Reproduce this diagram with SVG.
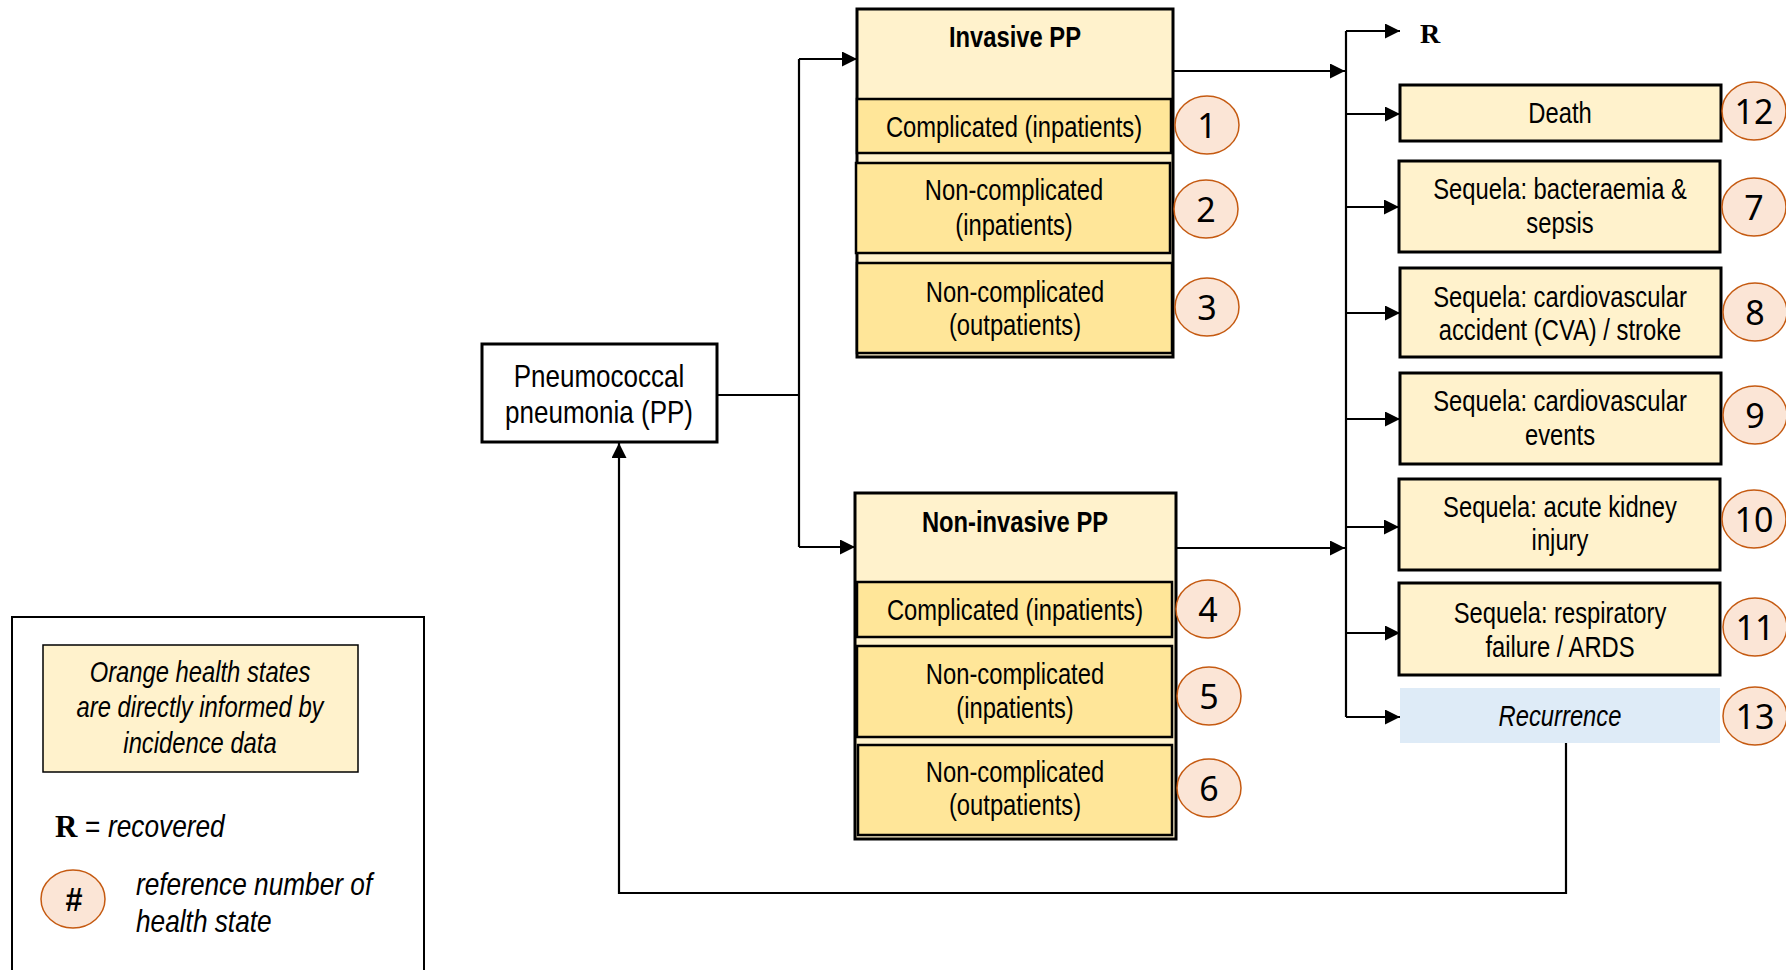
<svg xmlns="http://www.w3.org/2000/svg" width="1786" height="970" viewBox="0 0 1786 970">
  <style>
    .t { font-family: "Liberation Sans", Arial, sans-serif; font-size: 29px; fill: #000; text-anchor: middle; }
    .b { font-weight: bold; }
    .i { font-style: italic; }
    .lg { font-size: 32px; text-anchor: start; }
    .num { font-family: "Noto Sans", "Open Sans", sans-serif; font-size: 34px; fill: #000; text-anchor: middle; }
    .hdr { fill: #fff2cc; stroke: #000; stroke-width: 3; }
    .row { fill: #ffe699; stroke: #000; stroke-width: 2.5; }
    .seq { fill: #fff2cc; stroke: #000; stroke-width: 3; }
    .ref { fill: #fbe5d6; stroke: #c55a11; stroke-width: 1.5; }
    .wire { fill: none; stroke: #000; stroke-width: 2.2; }
    .serif { font-family: "Liberation Serif", "Times New Roman", serif; font-weight: bold; fill: #000; }
  </style>
  <defs>
    <marker id="arr" markerUnits="userSpaceOnUse" markerWidth="16" markerHeight="16" refX="15" refY="7.5" orient="auto">
      <path d="M0,0 L15,7.5 L0,15 z" fill="#000"/>
    </marker>
  </defs>

  <rect width="1786" height="970" fill="#fff"/>

  <!-- connectors -->
  <g id="connectors" class="wire">
    <polyline points="717,395 799,395"/>
    <polyline points="799,59 799,547"/>
    <polyline points="799,59 857,59" marker-end="url(#arr)"/>
    <polyline points="799,547 855,547" marker-end="url(#arr)"/>
    <polyline points="1173,71 1345,71" marker-end="url(#arr)"/>
    <polyline points="1176,548 1345,548" marker-end="url(#arr)"/>
    <polyline points="1346,31 1346,717"/>
    <polyline points="1346,31 1400,31" marker-end="url(#arr)"/>
    <polyline points="1346,114 1400,114" marker-end="url(#arr)"/>
    <polyline points="1346,207 1399,207" marker-end="url(#arr)"/>
    <polyline points="1346,313 1400,313" marker-end="url(#arr)"/>
    <polyline points="1346,419 1400,419" marker-end="url(#arr)"/>
    <polyline points="1346,527 1399,527" marker-end="url(#arr)"/>
    <polyline points="1346,633 1400,633" marker-end="url(#arr)"/>
    <polyline points="1346,717 1400,717" marker-end="url(#arr)"/>
    <polyline points="1566,743 1566,893 619,893 619,443" marker-end="url(#arr)"/>
  </g>

  <!-- starting state -->
  <g id="pp">
    <rect x="482" y="344" width="235" height="98" fill="#fff" stroke="#000" stroke-width="3"/>
    <text class="t" style="font-size:31px" transform="translate(599,387) scale(0.84,1)">Pneumococcal</text>
    <text class="t" style="font-size:31px" transform="translate(599,423) scale(0.84,1)">pneumonia (PP)</text>
  </g>

  <!-- invasive branch -->
  <g id="invasive">
    <rect class="hdr" x="857" y="9" width="316" height="348"/>
    <text class="t b" transform="translate(1015,47) scale(0.82,1)">Invasive PP</text>
  </g>
  <g id="state-1">
    <rect class="row" x="857" y="99" width="314" height="54"/>
    <text class="t" transform="translate(1014,137) scale(0.82,1)">Complicated (inpatients)</text>
    <ellipse class="ref" cx="1207" cy="125" rx="32" ry="29"/>
    <text class="num" x="1207" y="137.5">1</text>
  </g>
  <g id="state-2">
    <rect class="row" x="856" y="163" width="314" height="90"/>
    <text class="t" transform="translate(1014,200) scale(0.82,1)">Non-complicated</text>
    <text class="t" transform="translate(1014,235) scale(0.82,1)">(inpatients)</text>
    <ellipse class="ref" cx="1206" cy="209" rx="32" ry="29"/>
    <text class="num" x="1206" y="221.5">2</text>
  </g>
  <g id="state-3">
    <rect class="row" x="857" y="263" width="315" height="90"/>
    <text class="t" transform="translate(1015,302) scale(0.82,1)">Non-complicated</text>
    <text class="t" transform="translate(1015,335) scale(0.82,1)">(outpatients)</text>
    <ellipse class="ref" cx="1207" cy="307" rx="32" ry="29"/>
    <text class="num" x="1207" y="319.5">3</text>
  </g>

  <!-- non-invasive branch -->
  <g id="non-invasive">
    <rect class="hdr" x="855" y="493" width="321" height="346"/>
    <text class="t b" transform="translate(1015,532) scale(0.82,1)">Non-invasive PP</text>
  </g>
  <g id="state-4">
    <rect class="row" x="857" y="582" width="315" height="55"/>
    <text class="t" transform="translate(1015,620) scale(0.82,1)">Complicated (inpatients)</text>
    <ellipse class="ref" cx="1208" cy="609" rx="32" ry="29"/>
    <text class="num" x="1208" y="621.5">4</text>
  </g>
  <g id="state-5">
    <rect class="row" x="857" y="646" width="315" height="91"/>
    <text class="t" transform="translate(1015,684) scale(0.82,1)">Non-complicated</text>
    <text class="t" transform="translate(1015,718) scale(0.82,1)">(inpatients)</text>
    <ellipse class="ref" cx="1209" cy="696" rx="32" ry="29"/>
    <text class="num" x="1209" y="708.5">5</text>
  </g>
  <g id="state-6">
    <rect class="row" x="858" y="745" width="314" height="90"/>
    <text class="t" transform="translate(1015,782) scale(0.82,1)">Non-complicated</text>
    <text class="t" transform="translate(1015,815) scale(0.82,1)">(outpatients)</text>
    <ellipse class="ref" cx="1209" cy="788" rx="32" ry="29"/>
    <text class="num" x="1209" y="800.5">6</text>
  </g>

  <!-- outcomes -->
  <g id="recovered">
    <text class="serif" x="1420" y="43" font-size="28">R</text>
  </g>
  <g id="state-12">
    <rect class="seq" x="1400" y="85" width="321" height="56"/>
    <text class="t" transform="translate(1560,123) scale(0.82,1)">Death</text>
    <ellipse class="ref" cx="1754" cy="111" rx="32" ry="29"/>
    <text class="num" x="1754" y="123.5">12</text>
  </g>
  <g id="state-7">
    <rect class="seq" x="1399" y="161" width="321" height="91"/>
    <text class="t" transform="translate(1560,199) scale(0.82,1)">Sequela: bacteraemia &amp;</text>
    <text class="t" transform="translate(1560,233) scale(0.82,1)">sepsis</text>
    <ellipse class="ref" cx="1754" cy="207" rx="32" ry="29"/>
    <text class="num" x="1754" y="219.5">7</text>
  </g>
  <g id="state-8">
    <rect class="seq" x="1400" y="268" width="321" height="89"/>
    <text class="t" transform="translate(1560,307) scale(0.82,1)">Sequela: cardiovascular</text>
    <text class="t" transform="translate(1560,340) scale(0.82,1)">accident (CVA) / stroke</text>
    <ellipse class="ref" cx="1755" cy="312" rx="32" ry="29"/>
    <text class="num" x="1755" y="324.5">8</text>
  </g>
  <g id="state-9">
    <rect class="seq" x="1400" y="373" width="321" height="91"/>
    <text class="t" transform="translate(1560,411) scale(0.82,1)">Sequela: cardiovascular</text>
    <text class="t" transform="translate(1560,445) scale(0.82,1)">events</text>
    <ellipse class="ref" cx="1755" cy="415" rx="32" ry="29"/>
    <text class="num" x="1755" y="427.5">9</text>
  </g>
  <g id="state-10">
    <rect class="seq" x="1399" y="479" width="321" height="91"/>
    <text class="t" transform="translate(1560,517) scale(0.82,1)">Sequela: acute kidney</text>
    <text class="t" transform="translate(1560,550) scale(0.82,1)">injury</text>
    <ellipse class="ref" cx="1754" cy="519" rx="32" ry="29"/>
    <text class="num" x="1754" y="531.5">10</text>
  </g>
  <g id="state-11">
    <rect class="seq" x="1399" y="583" width="321" height="92"/>
    <text class="t" transform="translate(1560,623) scale(0.82,1)">Sequela: respiratory</text>
    <text class="t" transform="translate(1560,657) scale(0.82,1)">failure / ARDS</text>
    <ellipse class="ref" cx="1755" cy="627" rx="32" ry="29"/>
    <text class="num" x="1755" y="639.5">11</text>
  </g>
  <g id="state-13">
    <rect x="1400" y="688" width="320" height="55" fill="#deebf7"/>
    <text class="t i" transform="translate(1560,726) scale(0.82,1)">Recurrence</text>
    <ellipse class="ref" cx="1755" cy="716" rx="32" ry="29"/>
    <text class="num" x="1755" y="728.5">13</text>
  </g>

  <!-- legend -->
  <g id="legend">
    <rect x="12" y="617" width="412" height="400" fill="#fff" stroke="#000" stroke-width="2"/>
    <rect x="43" y="645" width="315" height="127" fill="#fff2cc" stroke="#000" stroke-width="1.5"/>
    <text class="t i" transform="translate(200,682) scale(0.82,1)">Orange health states</text>
    <text class="t i" transform="translate(200,717) scale(0.82,1)">are directly informed by</text>
    <text class="t i" transform="translate(200,753) scale(0.82,1)">incidence data</text>
    <text class="serif" x="55" y="837" font-size="31">R</text>
    <text class="t lg" transform="translate(85,837) scale(0.82,1)">=</text>
    <text class="t i lg" transform="translate(108,837) scale(0.82,1)">recovered</text>
    <ellipse class="ref" cx="73" cy="899" rx="32" ry="29"/>
    <text class="t b" style="font-size:34px" transform="translate(74,911) scale(0.9,1)">#</text>
    <text class="t i lg" transform="translate(136,895) scale(0.82,1)">reference number of</text>
    <text class="t i lg" transform="translate(136,932) scale(0.82,1)">health state</text>
  </g>
</svg>
